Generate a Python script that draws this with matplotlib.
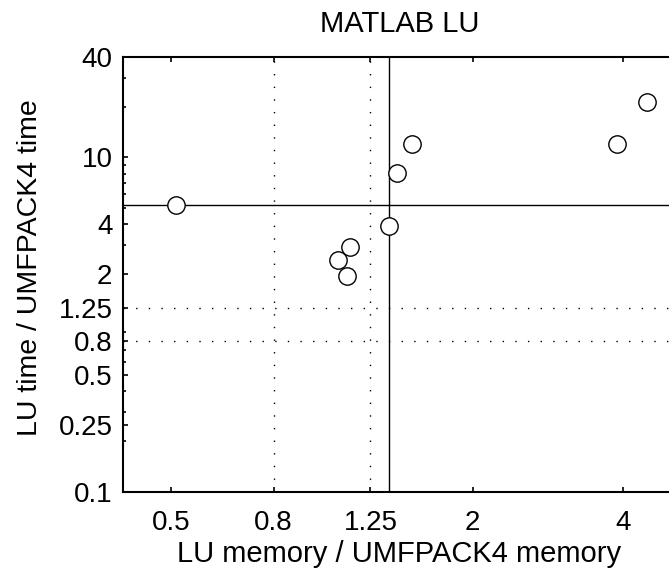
import numpy as np
import matplotlib
matplotlib.use('Agg')
import matplotlib.pyplot as plt
from matplotlib.ticker import LogLocator, NullLocator, NullFormatter

# ratios
mem_ratio = [0.51, 1.074, 1.138, 1.124, 1.359, 1.415, 1.512, 3.88, 4.47]
time_ratio = [5.16, 2.42, 2.91, 1.94, 3.90, 8.12, 12.0, 12.0, 21.4]

x_ticks = [0.5, 0.8, 1.25, 2, 4]
x_ticklabels = ['0.5', '0.8', '1.25', '2', '4']
y_ticks = [0.1, 0.25, 0.5, 0.8, 1.25, 2, 4, 10, 40]
y_ticklabels = ['0.1', '0.25', '0.5', '0.8', '1.25', '2', '4', '10', '40']
ref_levels = [0.8, 1.25]

plt.rc('font', family=['Liberation Sans', 'DejaVu Sans'], size=20)

fig = plt.figure(figsize=(6.69, 5.71), dpi=100)
# right edge of the box sits just past the picture, as in the original
ax = fig.add_axes([0.1837, 0.1389, 0.8268, 0.7617])
ax.set_xscale('log')
ax.set_yscale('log')
ax.set_xlim(0.4, 5.1)
ax.set_ylim(0.1, 40)

# dotted reference lines at 0.8 and 1.25, solid lines at the medians
dots = (0, (1, 8.1))
for v in ref_levels:
    ax.axvline(v, color='black', lw=1, linestyle=dots, zorder=1)
    ax.axhline(v, color='black', lw=1, linestyle=dots, zorder=1)
ax.axvline(np.median(mem_ratio), color='black', lw=1, zorder=2)
ax.axhline(np.median(time_ratio), color='black', lw=1, zorder=2)

ax.plot(mem_ratio, time_ratio, 'o', ms=12.5, mfc='white', mec='black',
        mew=1, zorder=3)

ax.set_xticks(x_ticks)
ax.set_xticklabels(x_ticklabels)
ax.xaxis.set_minor_locator(NullLocator())
ax.set_yticks(y_ticks)
ax.set_yticklabels(y_ticklabels)
ax.yaxis.set_minor_locator(LogLocator(base=10, subs=np.arange(2, 10)))
ax.yaxis.set_minor_formatter(NullFormatter())

ax.tick_params(which='both', direction='in', top=True, right=True, width=1.2)
ax.tick_params(which='major', length=3.8)
ax.tick_params(which='minor', length=2.2)
ax.tick_params(axis='x', pad=13)
ax.tick_params(axis='y', pad=7.5)
for s in ax.spines.values():
    s.set_linewidth(1.5)

ax.set_title('MATLAB LU', fontsize=21, pad=17.9)
ax.set_xlabel('LU memory / UMFPACK4 memory', fontsize=21, va='baseline')
ax.xaxis.set_label_coords(0.5, -0.161)
ax.set_ylabel('LU time / UMFPACK4 time', fontsize=20.5, va='baseline')
ax.yaxis.set_label_coords(-0.1553, 0.5155)

fig.savefig('out.png', dpi=100)
